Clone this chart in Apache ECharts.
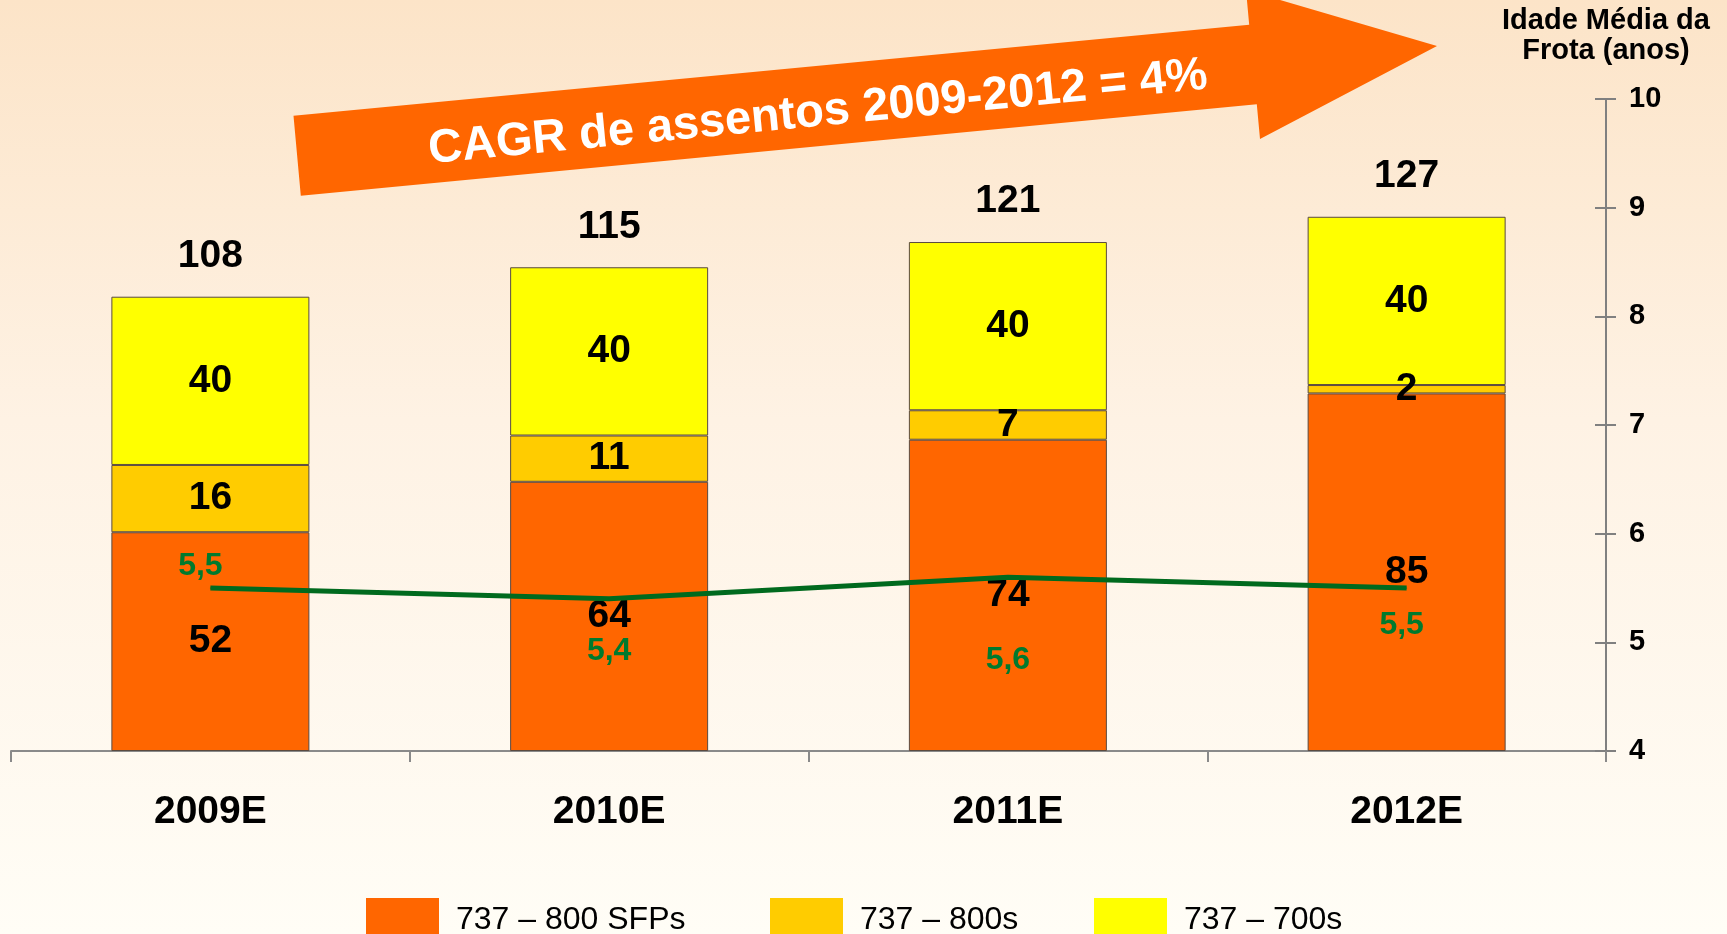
<!DOCTYPE html>
<html>
<head>
<meta charset="utf-8">
<script src="https://cdn.jsdelivr.net/npm/echarts@6/dist/echarts.min.js"></script>
<style>
html,body{margin:0;padding:0;width:1727px;height:934px;overflow:hidden;}
#c{width:1727px;height:934px;}
</style>
</head>
<body>
<div id="c"></div>
<script>
const categories = ['2009E', '2010E', '2011E', '2012E'];
const sfp800 = [52, 64, 74, 85];
const s800 = [16, 11, 7, 2];
const s700 = [40, 40, 40, 40];
const totals = [108, 115, 121, 127];
const fleetAge = [5.5, 5.4, 5.6, 5.5];
const fleetAgeLabels = ['5,5', '5,4', '5,6', '5,5'];
const ageTicks = [4, 5, 6, 7, 8, 9, 10];
const seriesNames = ['737 – 800 SFPs', '737 – 800s', '737 – 700s'];
const arrowText = 'CAGR de assentos 2009-2012 = 4%';
const ageAxisName = 'Idade Média da\nFrota (anos)';

// label offset styling for the green line labels (not data)
const greenLabelOffsets = [[-10, -22], [0, 52], [0, 83], [-5, 37]];

const FONT = 'Liberation Sans, Arial, sans-serif';
const chart = echarts.init(document.getElementById('c'), null, {renderer: 'canvas'});

const segLabel = {show: true, position: 'inside', color: '#000', fontWeight: 'bold', fontSize: 39, fontFamily: FONT};
const barItem = (c) => ({color: c, borderColor: '#5a4a40', borderWidth: 1});

const legendBase = (name, left) => ({
  data: [name], left: left, top: 898, orient: 'horizontal', padding: 0,
  itemWidth: 73, itemHeight: 44, icon: 'rect',
  itemStyle: {borderWidth: 0},
  textStyle: {fontSize: 32, color: '#000', fontFamily: FONT, padding: [0, 0, 0, 12]},
  selectedMode: false
});

const option = {
  backgroundColor: {
    type: 'linear', x: 0, y: 0, x2: 0, y2: 1,
    colorStops: [
      {offset: 0, color: '#FCE4C8'},
      {offset: 0.45, color: '#FEF2E4'},
      {offset: 1, color: '#FFFDF6'}
    ]
  },
  animation: false,
  textStyle: {fontFamily: FONT},
  grid: {left: 11, right: 121, top: 99, bottom: 183, containLabel: false},
  legend: [
    legendBase(seriesNames[0], 366),
    legendBase(seriesNames[1], 770),
    legendBase(seriesNames[2], 1094)
  ],
  xAxis: {
    type: 'category', data: categories,
    axisLine: {show: true, lineStyle: {color: '#8a8a8a', width: 2}},
    axisTick: {show: true, length: 11, lineStyle: {color: '#8a8a8a', width: 2}},
    axisLabel: {color: '#000', fontWeight: 'bold', fontSize: 39, margin: 42, fontFamily: FONT},
    splitLine: {show: false}
  },
  yAxis: [
    {type: 'value', min: 0, max: 155, show: false},
    {
      type: 'value', position: 'right', offset: 0, min: ageTicks[0], max: ageTicks[ageTicks.length - 1], interval: 1,
      name: ageAxisName, nameLocation: 'end', nameGap: 33,
      nameTextStyle: {color: '#000', fontWeight: 'bold', fontSize: 29, lineHeight: 30, align: 'center', fontFamily: FONT},
      axisLine: {show: true, lineStyle: {color: '#808080', width: 2}},
      axisTick: {show: true, length: 10, lineStyle: {color: '#808080', width: 2}},
      axisLabel: {color: '#000', fontWeight: 'bold', fontSize: 29, margin: 23, fontFamily: FONT},
      splitLine: {show: false}
    },
    {
      type: 'value', position: 'right', offset: 0, min: ageTicks[0], max: ageTicks[ageTicks.length - 1], interval: 1,
      axisLine: {show: false},
      axisTick: {show: true, inside: true, length: 11, lineStyle: {color: '#808080', width: 2}},
      axisLabel: {show: false},
      splitLine: {show: false}
    }
  ],
  graphic: [
    {
      type: 'polygon', z: 1,
      shape: {points: [[293.5, 115.7], [1249.2, 24.7], [1246, -10], [1437, 46], [1260, 139], [1256.8, 104.3], [300.8, 195.8]]},
      style: {fill: '#FF6600'}
    },
    {
      type: 'text', z: 2, x: 818, y: 113, rotation: Math.atan(0.0959),
      style: {text: arrowText, fill: '#FFFFFF', font: 'bold 47px ' + FONT, align: 'center', verticalAlign: 'middle'}
    }
  ],
  series: [
    {name: seriesNames[0], type: 'bar', stack: 'seats', barWidth: 198, data: sfp800, itemStyle: barItem('#FF6600'), label: segLabel},
    {name: seriesNames[1], type: 'bar', stack: 'seats', barWidth: 198, data: s800, itemStyle: barItem('#FFCC00'), label: segLabel},
    {name: seriesNames[2], type: 'bar', stack: 'seats', barWidth: 198, data: s700, itemStyle: barItem('#FFFF00'), label: segLabel},
    {
      name: 'total', type: 'scatter', data: totals, symbolSize: 0, z: 6,
      itemStyle: {color: '#000', opacity: 1},
      label: {show: true, position: 'top', distance: 21, color: '#000', opacity: 1, textBorderWidth: 0, fontWeight: 'bold', fontSize: 39, fontFamily: FONT, formatter: p => String(totals[p.dataIndex])},
      emphasis: {disabled: true}
    },
    {
      name: 'idade', type: 'line', yAxisIndex: 1, z: 5,
      data: fleetAge.map((v, i) => ({
        value: v,
        label: {offset: greenLabelOffsets[i]}
      })),
      symbol: 'circle', symbolSize: 1, showSymbol: true,
      itemStyle: {color: '#006A1E'},
      lineStyle: {color: '#006A1E', width: 5},
      label: {show: true, position: 'inside', color: '#007A2E', fontWeight: 'bold', fontSize: 32, fontFamily: FONT, formatter: p => fleetAgeLabels[p.dataIndex]}
    }
  ]
};
chart.setOption(option);
</script>
</body>
</html>
